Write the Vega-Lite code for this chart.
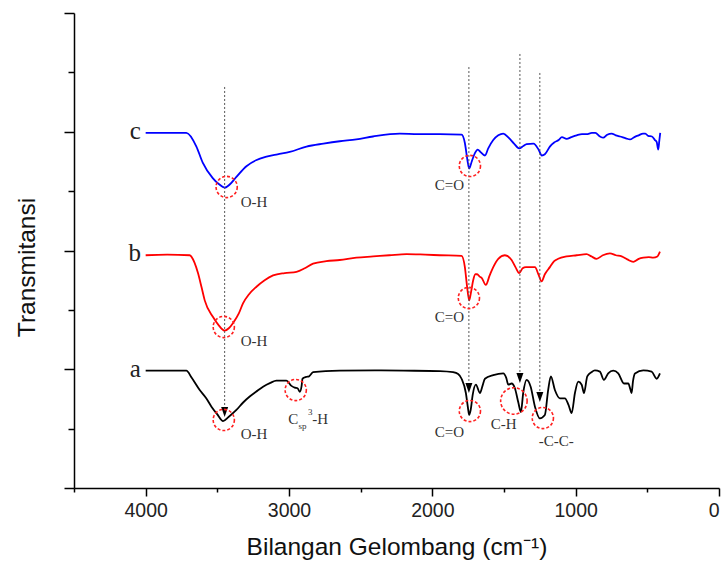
{
  "$schema": "https://vega.github.io/schema/vega-lite/v6.json",
  "width": 645,
  "height": 475,
  "autosize": "none",
  "padding": {"left": 74, "top": 13, "right": 5, "bottom": 80},
  "background": "white",
  "config": {"view": {"stroke": null}},
  "datasets": {
    "spectra": [
      {"s":"c","w":4000,"t":2.99},{"s":"c","w":3850,"t":2.99},{"s":"c","w":3716,"t":2.99},{"s":"c","w":3646,"t":2.875},{"s":"c","w":3602,"t":2.74},{"s":"c","w":3532,"t":2.61},{"s":"c","w":3490,"t":2.56},{"s":"c","w":3448,"t":2.53},{"s":"c","w":3410,"t":2.56},{"s":"c","w":3367,"t":2.62},{"s":"c","w":3297,"t":2.71},{"s":"c","w":3230,"t":2.76},{"s":"c","w":3157,"t":2.79},{"s":"c","w":3080,"t":2.81},{"s":"c","w":2995,"t":2.83},{"s":"c","w":2878,"t":2.875},{"s":"c","w":2760,"t":2.9},{"s":"c","w":2646,"t":2.92},{"s":"c","w":2530,"t":2.935},{"s":"c","w":2414,"t":2.96},{"s":"c","w":2227,"t":2.985},{"s":"c","w":2100,"t":2.98},{"s":"c","w":1948,"t":2.98},{"s":"c","w":1796,"t":2.975},{"s":"c","w":1773,"t":2.905},{"s":"c","w":1755,"t":2.76},{"s":"c","w":1743,"t":2.69},{"s":"c","w":1725,"t":2.75},{"s":"c","w":1703,"t":2.82},{"s":"c","w":1683,"t":2.85},{"s":"c","w":1665,"t":2.83},{"s":"c","w":1633,"t":2.8},{"s":"c","w":1610,"t":2.86},{"s":"c","w":1575,"t":2.93},{"s":"c","w":1540,"t":2.97},{"s":"c","w":1505,"t":2.985},{"s":"c","w":1468,"t":2.95},{"s":"c","w":1430,"t":2.9},{"s":"c","w":1394,"t":2.86},{"s":"c","w":1365,"t":2.88},{"s":"c","w":1342,"t":2.895},{"s":"c","w":1294,"t":2.9},{"s":"c","w":1259,"t":2.85},{"s":"c","w":1236,"t":2.8},{"s":"c","w":1215,"t":2.81},{"s":"c","w":1180,"t":2.875},{"s":"c","w":1150,"t":2.91},{"s":"c","w":1119,"t":2.93},{"s":"c","w":1096,"t":2.955},{"s":"c","w":1063,"t":2.94},{"s":"c","w":1030,"t":2.955},{"s":"c","w":993,"t":2.97},{"s":"c","w":956,"t":2.98},{"s":"c","w":924,"t":2.98},{"s":"c","w":887,"t":2.99},{"s":"c","w":863,"t":2.99},{"s":"c","w":830,"t":2.96},{"s":"c","w":808,"t":2.95},{"s":"c","w":780,"t":2.975},{"s":"c","w":749,"t":2.985},{"s":"c","w":720,"t":2.97},{"s":"c","w":691,"t":2.96},{"s":"c","w":650,"t":2.945},{"s":"c","w":621,"t":2.935},{"s":"c","w":590,"t":2.955},{"s":"c","w":561,"t":2.97},{"s":"c","w":530,"t":2.985},{"s":"c","w":514,"t":2.985},{"s":"c","w":494,"t":2.965},{"s":"c","w":468,"t":2.96},{"s":"c","w":447,"t":2.93},{"s":"c","w":435,"t":2.915},{"s":"c","w":424,"t":2.85},{"s":"c","w":416,"t":2.93},{"s":"c","w":410,"t":2.99},
      {"s":"b","w":4000,"t":1.96},{"s":"b","w":3850,"t":1.965},{"s":"b","w":3693,"t":1.96},{"s":"b","w":3660,"t":1.9},{"s":"b","w":3635,"t":1.81},{"s":"b","w":3610,"t":1.69},{"s":"b","w":3588,"t":1.58},{"s":"b","w":3530,"t":1.44},{"s":"b","w":3490,"t":1.37},{"s":"b","w":3448,"t":1.325},{"s":"b","w":3420,"t":1.345},{"s":"b","w":3390,"t":1.39},{"s":"b","w":3350,"t":1.47},{"s":"b","w":3321,"t":1.555},{"s":"b","w":3280,"t":1.63},{"s":"b","w":3227,"t":1.695},{"s":"b","w":3170,"t":1.75},{"s":"b","w":3111,"t":1.79},{"s":"b","w":3030,"t":1.81},{"s":"b","w":2948,"t":1.82},{"s":"b","w":2890,"t":1.85},{"s":"b","w":2832,"t":1.89},{"s":"b","w":2740,"t":1.91},{"s":"b","w":2646,"t":1.92},{"s":"b","w":2530,"t":1.94},{"s":"b","w":2413,"t":1.95},{"s":"b","w":2300,"t":1.96},{"s":"b","w":2180,"t":1.97},{"s":"b","w":2050,"t":1.965},{"s":"b","w":1948,"t":1.96},{"s":"b","w":1796,"t":1.955},{"s":"b","w":1773,"t":1.86},{"s":"b","w":1758,"t":1.7},{"s":"b","w":1743,"t":1.58},{"s":"b","w":1730,"t":1.65},{"s":"b","w":1715,"t":1.75},{"s":"b","w":1700,"t":1.8},{"s":"b","w":1687,"t":1.8},{"s":"b","w":1670,"t":1.78},{"s":"b","w":1656,"t":1.77},{"s":"b","w":1627,"t":1.71},{"s":"b","w":1600,"t":1.79},{"s":"b","w":1575,"t":1.86},{"s":"b","w":1540,"t":1.93},{"s":"b","w":1494,"t":1.96},{"s":"b","w":1447,"t":1.92},{"s":"b","w":1420,"t":1.86},{"s":"b","w":1394,"t":1.81},{"s":"b","w":1370,"t":1.85},{"s":"b","w":1347,"t":1.86},{"s":"b","w":1284,"t":1.86},{"s":"b","w":1260,"t":1.8},{"s":"b","w":1238,"t":1.74},{"s":"b","w":1215,"t":1.8},{"s":"b","w":1180,"t":1.86},{"s":"b","w":1150,"t":1.91},{"s":"b","w":1122,"t":1.93},{"s":"b","w":1063,"t":1.95},{"s":"b","w":993,"t":1.96},{"s":"b","w":924,"t":1.97},{"s":"b","w":890,"t":1.95},{"s":"b","w":854,"t":1.93},{"s":"b","w":810,"t":1.96},{"s":"b","w":761,"t":1.975},{"s":"b","w":720,"t":1.96},{"s":"b","w":679,"t":1.95},{"s":"b","w":640,"t":1.925},{"s":"b","w":598,"t":1.905},{"s":"b","w":560,"t":1.93},{"s":"b","w":528,"t":1.94},{"s":"b","w":490,"t":1.945},{"s":"b","w":459,"t":1.94},{"s":"b","w":430,"t":1.95},{"s":"b","w":412,"t":1.99},
      {"s":"a","w":4000,"t":0.988},{"s":"a","w":3850,"t":0.988},{"s":"a","w":3716,"t":0.988},{"s":"a","w":3680,"t":0.93},{"s":"a","w":3623,"t":0.825},{"s":"a","w":3580,"t":0.76},{"s":"a","w":3541,"t":0.685},{"s":"a","w":3500,"t":0.62},{"s":"a","w":3460,"t":0.564},{"s":"a","w":3420,"t":0.6},{"s":"a","w":3367,"t":0.657},{"s":"a","w":3320,"t":0.72},{"s":"a","w":3274,"t":0.77},{"s":"a","w":3230,"t":0.81},{"s":"a","w":3181,"t":0.853},{"s":"a","w":3130,"t":0.885},{"s":"a","w":3088,"t":0.904},{"s":"a","w":3018,"t":0.904},{"s":"a","w":2983,"t":0.86},{"s":"a","w":2960,"t":0.845},{"s":"a","w":2940,"t":0.84},{"s":"a","w":2925,"t":0.81},{"s":"a","w":2912,"t":0.86},{"s":"a","w":2906,"t":0.92},{"s":"a","w":2880,"t":0.935},{"s":"a","w":2860,"t":0.94},{"s":"a","w":2832,"t":0.975},{"s":"a","w":2646,"t":0.988},{"s":"a","w":2400,"t":0.99},{"s":"a","w":2200,"t":0.988},{"s":"a","w":1948,"t":0.985},{"s":"a","w":1855,"t":0.975},{"s":"a","w":1820,"t":0.96},{"s":"a","w":1796,"t":0.92},{"s":"a","w":1766,"t":0.8},{"s":"a","w":1752,"t":0.68},{"s":"a","w":1743,"t":0.615},{"s":"a","w":1732,"t":0.66},{"s":"a","w":1719,"t":0.78},{"s":"a","w":1696,"t":0.87},{"s":"a","w":1668,"t":0.8},{"s":"a","w":1650,"t":0.86},{"s":"a","w":1633,"t":0.92},{"s":"a","w":1575,"t":0.95},{"s":"a","w":1505,"t":0.965},{"s":"a","w":1485,"t":0.93},{"s":"a","w":1470,"t":0.87},{"s":"a","w":1447,"t":0.88},{"s":"a","w":1424,"t":0.84},{"s":"a","w":1400,"t":0.72},{"s":"a","w":1382,"t":0.64},{"s":"a","w":1366,"t":0.8},{"s":"a","w":1342,"t":0.91},{"s":"a","w":1314,"t":0.853},{"s":"a","w":1284,"t":0.685},{"s":"a","w":1250,"t":0.587},{"s":"a","w":1215,"t":0.615},{"s":"a","w":1192,"t":0.825},{"s":"a","w":1173,"t":0.94},{"s":"a","w":1145,"t":0.825},{"s":"a","w":1110,"t":0.755},{"s":"a","w":1075,"t":0.755},{"s":"a","w":1050,"t":0.7},{"s":"a","w":1028,"t":0.63},{"s":"a","w":1005,"t":0.8},{"s":"a","w":982,"t":0.895},{"s":"a","w":958,"t":0.87},{"s":"a","w":942,"t":0.8},{"s":"a","w":919,"t":0.94},{"s":"a","w":890,"t":0.975},{"s":"a","w":866,"t":0.99},{"s":"a","w":831,"t":0.98},{"s":"a","w":803,"t":0.91},{"s":"a","w":773,"t":0.965},{"s":"a","w":738,"t":0.988},{"s":"a","w":703,"t":0.965},{"s":"a","w":663,"t":0.88},{"s":"a","w":633,"t":0.88},{"s":"a","w":618,"t":0.83},{"s":"a","w":610,"t":0.8},{"s":"a","w":600,"t":0.9},{"s":"a","w":586,"t":0.965},{"s":"a","w":528,"t":0.99},{"s":"a","w":470,"t":0.98},{"s":"a","w":435,"t":0.92},{"s":"a","w":412,"t":0.965}
    ],
    "vlines": [
      {"w":3449,"top":3.377,"bot":0.68},
      {"w":1745,"top":3.545,"bot":0.87},
      {"w":1389,"top":3.655,"bot":0.95},
      {"w":1250,"top":3.495,"bot":0.8}
    ],
    "arrows": [
      {"w":3449,"t":0.64},
      {"w":1745,"t":0.842},
      {"w":1389,"t":0.926},
      {"w":1250,"t":0.766}
    ],
    "circles": [
      {"lab":"O-H c","w":3435,"t":2.535},
      {"lab":"O-H b","w":3455,"t":1.356},
      {"lab":"O-H a","w":3455,"t":0.573},
      {"lab":"Csp3-H","w":2953,"t":0.825},
      {"lab":"C=O c","w":1738,"t":2.712},
      {"lab":"C=O b","w":1745,"t":1.6},
      {"lab":"C=O a","w":1738,"t":0.648},
      {"lab":"C-H","w":1431,"t":0.733},
      {"lab":"-C-C-","w":1229,"t":0.589}
    ],
    "labels": [
      {"txt":"O-H","w":3337,"t":2.408},
      {"txt":"O-H","w":3337,"t":1.238},
      {"txt":"O-H","w":3337,"t":0.455},
      {"txt":"C=O","w":1983,"t":2.552},
      {"txt":"C=O","w":1983,"t":1.44},
      {"txt":"C=O","w":1983,"t":0.472},
      {"txt":"C-H","w":1592,"t":0.539},
      {"txt":"-C-C-","w":1257,"t":0.396},
      {"txt":"C","w":3005,"t":0.585},
      {"txt":"-H","w":2838,"t":0.585}
    ],
    "small": [
      {"txt":"sp","w":2933,"t":0.518},
      {"txt":"3","w":2868,"t":0.64}
    ],
    "letters": [
      {"txt":"c","w":4033,"t":2.99},
      {"txt":"b","w":4033,"t":1.96},
      {"txt":"a","w":4033,"t":0.988}
    ]
  },
  "resolve": {"axis": {"x": "independent", "y": "independent"}},
  "layer": [
    {
      "data": {"name": "spectra"},
      "mark": {"type": "line", "strokeWidth": 1.8, "interpolate": "monotone"},
      "encoding": {
        "x": {"field": "w", "type": "quantitative",
          "scale": {"domain": [0, 4500], "reverse": true, "nice": false, "zero": false},
          "axis": {"orient": "bottom", "values": [0, 1000, 2000, 3000, 4000], "format": "d", "tickSize": 8, "tickWidth": 1.5, "tickColor": "#000", "domainColor": "#000", "domainWidth": 1.5, "labelFont": "Liberation Sans", "labelFontSize": 19.5, "labelColor": "#222", "labelPadding": 5, "grid": false, "title": "Bilangan Gelombang (cm⁻¹)", "titleFont": "Liberation Sans", "titleFontSize": 24.5, "titleFontWeight": "normal", "titleColor": "#111", "titlePadding": 16}},
        "y": {"field": "t", "type": "quantitative",
          "scale": {"domain": [0, 4], "nice": false, "zero": false},
          "axis": {"orient": "left", "values": [0, 1, 2, 3, 4], "labels": false, "tickSize": 10, "tickWidth": 1.5, "tickColor": "#000", "domainColor": "#000", "domainWidth": 1.5, "grid": false, "title": "Transmitansi", "titleFont": "Liberation Sans", "titleFontSize": 24.5, "titleFontWeight": "normal", "titleColor": "#111", "titlePadding": 24, "titleY": 254, "titleAlign": "center"}},
        "color": {"field": "s", "type": "nominal", "scale": {"domain": ["a", "b", "c"], "range": ["#000000", "#ff0000", "#0000ff"]}, "legend": null},
        "order": {"field": "w", "type": "quantitative"}
      }
    },
    {
      "data": {"name": "vlines"},
      "mark": {"type": "rule", "color": "#555", "strokeWidth": 1, "strokeDash": [2, 2]},
      "encoding": {
        "x": {"field": "w", "type": "quantitative",
          "axis": {"orient": "bottom", "values": [500, 1500, 2500, 3500, 4500], "labels": false, "domain": false, "tickSize": 4, "tickWidth": 1.5, "tickColor": "#000", "grid": false, "title": null}},
        "y": {"field": "top", "type": "quantitative",
          "axis": {"orient": "left", "values": [0.5, 1.5, 2.5, 3.5], "labels": false, "domain": false, "tickSize": 6, "tickWidth": 1.5, "tickColor": "#000", "grid": false, "title": null}},
        "y2": {"field": "bot"}
      }
    },
    {
      "data": {"name": "arrows"},
      "mark": {"type": "point", "shape": "M-0.7,-1L0.7,-1L0,1Z", "filled": true, "color": "#000", "opacity": 1, "size": 100},
      "encoding": {
        "x": {"field": "w", "type": "quantitative", "axis": null},
        "y": {"field": "t", "type": "quantitative", "axis": null}
      }
    },
    {
      "data": {"name": "circles"},
      "transform": [{"filter": "datum.lab !== 'C-H'"}],
      "mark": {"type": "point", "shape": "circle", "filled": false, "stroke": "#ff2020", "strokeWidth": 1.6, "strokeDash": [3, 2], "opacity": 1, "size": 450},
      "encoding": {
        "x": {"field": "w", "type": "quantitative", "axis": null},
        "y": {"field": "t", "type": "quantitative", "axis": null}
      }
    },
    {
      "data": {"name": "circles"},
      "transform": [{"filter": "datum.lab === 'C-H'"}],
      "mark": {"type": "point", "shape": "circle", "filled": false, "stroke": "#ff2020", "strokeWidth": 1.6, "strokeDash": [3, 2], "opacity": 1, "size": 700},
      "encoding": {
        "x": {"field": "w", "type": "quantitative", "axis": null},
        "y": {"field": "t", "type": "quantitative", "axis": null}
      }
    },
    {
      "data": {"name": "labels"},
      "mark": {"type": "text", "font": "Liberation Serif", "fontSize": 15, "color": "#333", "align": "left", "baseline": "middle"},
      "encoding": {
        "x": {"field": "w", "type": "quantitative", "axis": null},
        "y": {"field": "t", "type": "quantitative", "axis": null},
        "text": {"field": "txt"}
      }
    },
    {
      "data": {"name": "small"},
      "mark": {"type": "text", "font": "Liberation Serif", "fontSize": 9, "color": "#333", "align": "left", "baseline": "middle"},
      "encoding": {
        "x": {"field": "w", "type": "quantitative", "axis": null},
        "y": {"field": "t", "type": "quantitative", "axis": null},
        "text": {"field": "txt"}
      }
    },
    {
      "data": {"name": "letters"},
      "mark": {"type": "text", "font": "Liberation Serif", "fontSize": 25, "color": "#222", "align": "right", "baseline": "alphabetic", "dy": 6},
      "encoding": {
        "x": {"field": "w", "type": "quantitative", "axis": null},
        "y": {"field": "t", "type": "quantitative", "axis": null},
        "text": {"field": "txt"}
      }
    }
  ]
}
